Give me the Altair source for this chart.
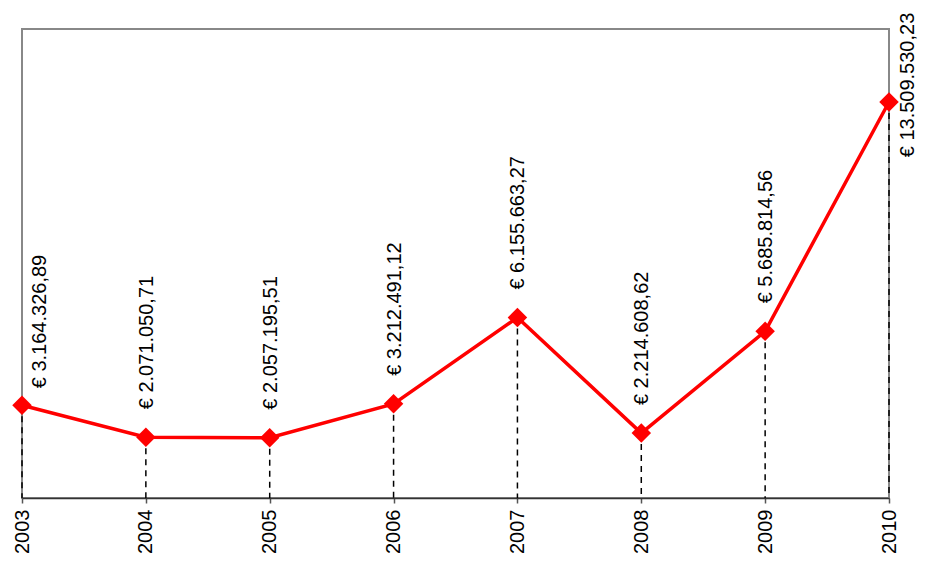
import altair as alt
import pandas as pd

years = ["2003", "2004", "2005", "2006", "2007", "2008", "2009", "2010"]
values = [3164326.89, 2071050.71, 2057195.51, 3212491.12, 6155663.27, 2214608.62, 5685814.56, 13509530.23]


def eur(v):
    s = f"{v:,.2f}"
    s = s.replace(",", "X").replace(".", ",").replace("X", ".")
    return "€ " + s


df = pd.DataFrame({"year": years, "value": values, "label": [eur(v) for v in values]})

FONT = "Liberation Sans"
FS = 20

x = alt.X("year:O", scale=alt.Scale(type="point", padding=0),
          axis=alt.Axis(title=None, labelAngle=270, labelAlign="right", labelBaseline="middle",
                        labelFontSize=FS, labelFont=FONT, labelColor="black",
                        labelPadding=6, tickSize=5, tickColor="#555", tickWidth=1.5,
                        domainColor="#333", domainWidth=1.5, grid=False))
y = alt.Y("value:Q", scale=alt.Scale(domain=[0, 16000000], nice=False, zero=True), axis=None)

base = alt.Chart(df)

drops = base.mark_rule(color="black", strokeDash=[6, 5], strokeWidth=1.5).encode(
    x=x, y=y, y2=alt.datum(0))

line = base.mark_line(color="#FF0000", strokeWidth=3.5).encode(x=x, y=y)

pts = base.mark_point(shape="diamond", filled=True, color="#FF0000", size=380, opacity=1).encode(x=x, y=y)

first = base.transform_filter(alt.datum.year == "2003").mark_text(
    angle=270, align="left", baseline="middle", dx=17, dy=18, fontSize=FS, font=FONT, color="black"
).encode(x=x, y=y, text="label:N")

mid = base.transform_filter((alt.datum.year != "2003") & (alt.datum.year != "2010")).mark_text(
    angle=270, align="left", baseline="middle", dx=28, dy=1, fontSize=FS, font=FONT, color="black"
).encode(x=x, y=y, text="label:N")

last = base.transform_filter(alt.datum.year == "2010").mark_text(
    angle=270, align="center", baseline="middle", dx=17, dy=19, fontSize=FS, font=FONT, color="black"
).encode(x=x, y=y, text="label:N")

chart = alt.layer(drops, line, pts, first, mid, last).properties(
    width=867, height=469,
    background="white",
    autosize=alt.AutoSizeParams(type="none"),
    padding={"left": 14, "top": 21, "right": 30, "bottom": 55},
).configure_view(stroke="#888888", strokeWidth=2)

chart.save("out.html", embed_options={"renderer": "svg", "actions": False})
